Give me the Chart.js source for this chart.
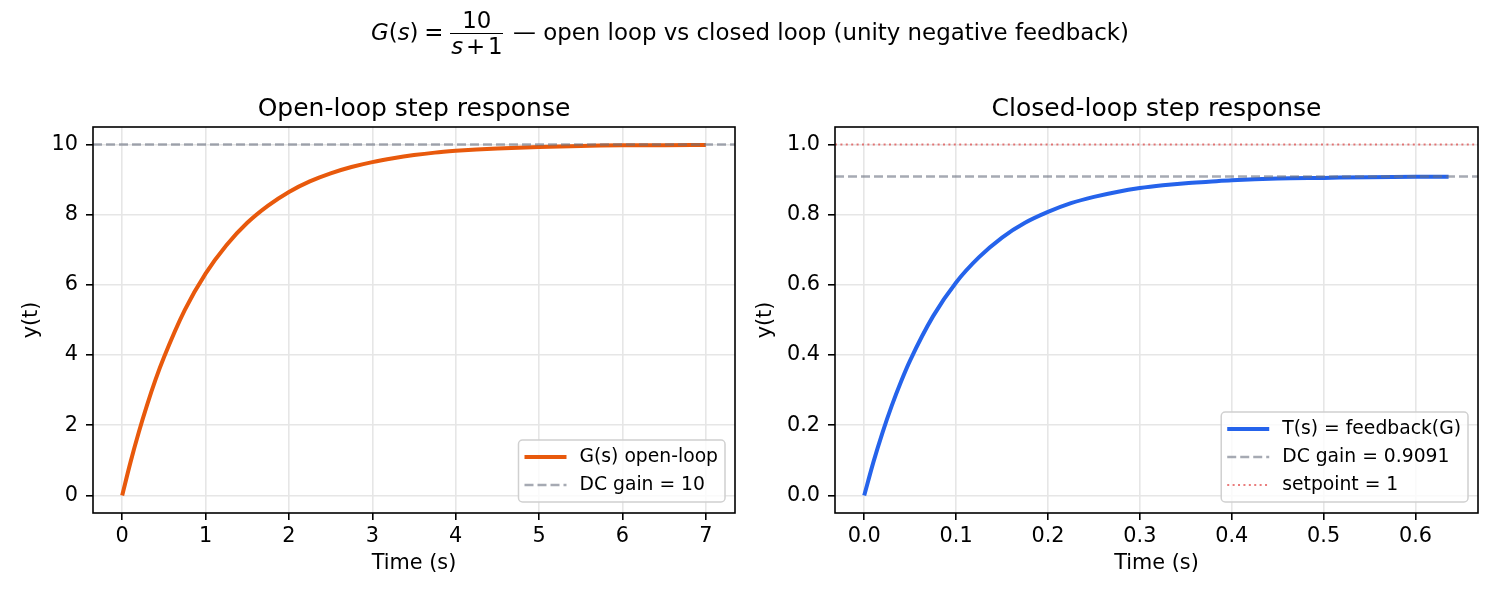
<!DOCTYPE html>
<html>
<head>
<meta charset="utf-8">
<script src="https://cdn.jsdelivr.net/npm/chart.js@4"></script>
<style>
  body { margin: 0; background: #fff; width: 1500px; height: 600px; position: relative; overflow: hidden; font-family: "DejaVu Sans", sans-serif; }
  canvas { position: absolute; top: 0; }
  #left { left: 0; }
  #right { left: 750px; }
  #sup { position: absolute; left: 0; top: 8px; width: 1500px; text-align: center; font-size: 22.9px; color: #000; white-space: nowrap; z-index: 2; }
  .m { font-style: italic; }
  .eq { margin: 0 0.2em 0 0.25em; }
  .op { margin: 0 0.12em; }
  .frac { display: inline-block; vertical-align: middle; text-align: center; margin: 0 0.1em; }
  .num { display: block; line-height: 1.1; border-bottom: 1.4px solid #000; padding: 0 1px; }
  .den { display: block; line-height: 1.1; padding: 0 1px; }
</style>
</head>
<body>
<div id="sup"><span class="m">G</span>(<span class="m">s</span>)<span class="eq">=</span><span class="frac"><span class="num">10</span><span class="den"><span class="m">s</span><span class="op">+</span>1</span></span> — open loop vs closed loop (unity negative feedback)</div>
<canvas id="left" width="750" height="600"></canvas>
<canvas id="right" width="750" height="600"></canvas>
<script>
// open loop step response
const tOpen = [0, 0.1, 0.2, 0.3, 0.4, 0.5, 0.75, 1, 1.25, 1.5, 1.75, 2, 2.25, 2.5, 2.75, 3, 3.25, 3.5, 3.75, 4, 4.25, 4.5, 4.75, 5, 5.5, 6, 6.5, 7];
const yOpen = [0, 0.95, 1.81, 2.59, 3.30, 3.93, 5.28, 6.32, 7.13, 7.77, 8.26, 8.65, 8.95, 9.18, 9.36, 9.50, 9.61, 9.70, 9.77, 9.82, 9.86, 9.89, 9.91, 9.93, 9.96, 9.98, 9.98, 9.99];

// closed loop step response
const tClosed = [0, 0.01, 0.02, 0.03, 0.04, 0.05, 0.075, 0.1, 0.125, 0.15, 0.175, 0.2, 0.225, 0.25, 0.275, 0.3, 0.325, 0.35, 0.375, 0.4, 0.45, 0.5, 0.55, 0.6, 0.636];
const yClosed = [0, 0.095, 0.180, 0.256, 0.324, 0.385, 0.511, 0.607, 0.679, 0.735, 0.777, 0.808, 0.833, 0.851, 0.865, 0.876, 0.884, 0.890, 0.894, 0.898, 0.903, 0.905, 0.907, 0.908, 0.908];

const dcOpen = 10;
const dcClosed = 0.9091;
const setpoint = 1;

const xTicksOpen = [0, 1, 2, 3, 4, 5, 6, 7];
const yTicksOpen = [0, 2, 4, 6, 8, 10];
const xTicksClosed = [0, 0.1, 0.2, 0.3, 0.4, 0.5, 0.6];
const yTicksClosed = [0, 0.2, 0.4, 0.6, 0.8, 1.0];

const xLimOpen = [-0.35, 7.35];
const yLimOpen = [-0.5, 10.5];
const xLimClosed = [-0.0318, 0.668];
const yLimClosed = [-0.05, 1.05];

Chart.defaults.font.family = '"DejaVu Sans", sans-serif';
Chart.defaults.font.size = 20.8;
Chart.defaults.color = '#000';
Chart.defaults.animation = false;

function pts(xs, ys) {
    return xs.map((x, i) => ({x: x, y: ys[i]}));
}

// full box around the plot area
const framePlugin = {
    id: 'frame',
    afterDatasetsDraw(chart) {
        const a = chart.chartArea, ctx = chart.ctx;
        ctx.save();
        ctx.strokeStyle = '#000';
        ctx.lineWidth = 1.6;
        ctx.strokeRect(a.left, a.top, a.right - a.left, a.bottom - a.top);
        ctx.restore();
    }
};

// subplot title centred over the plot area
const subTitlePlugin = {
    id: 'subTitle',
    afterDraw(chart, args, opts) {
        const a = chart.chartArea, ctx = chart.ctx;
        ctx.save();
        ctx.font = '25px "DejaVu Sans"';
        ctx.fillStyle = '#000';
        ctx.textAlign = 'center';
        ctx.textBaseline = 'alphabetic';
        ctx.fillText(opts.text, (a.left + a.right) / 2, a.top - 11);
        ctx.restore();
    }
};

// legend box in the lower right corner
const boxLegendPlugin = {
    id: 'boxLegend',
    afterDraw(chart) {
        const a = chart.chartArea, ctx = chart.ctx;
        const ds = chart.data.datasets;
        ctx.save();
        ctx.font = '18.75px "DejaVu Sans"';
        let tw = 0;
        ds.forEach(d => { tw = Math.max(tw, ctx.measureText(d.label).width); });
        const w = 6 + 42 + 13 + tw + 7;
        const h = (ds.length - 1) * 28 + 34;
        const x0 = a.right - 10 - w;
        const y0 = a.bottom - 11 - h;
        ctx.beginPath();
        ctx.roundRect(x0, y0, w, h, 4);
        ctx.fillStyle = 'rgba(255,255,255,0.8)';
        ctx.fill();
        ctx.strokeStyle = '#d0d0d0';
        ctx.lineWidth = 1.5;
        ctx.stroke();
        ds.forEach((d, i) => {
            const yc = y0 + 17 + i * 28;
            ctx.beginPath();
            ctx.setLineDash(d.borderDash || []);
            ctx.strokeStyle = d.borderColor;
            ctx.lineWidth = d.borderWidth;
            ctx.moveTo(x0 + 6, yc);
            ctx.lineTo(x0 + 48, yc);
            ctx.stroke();
            ctx.setLineDash([]);
            ctx.fillStyle = '#000';
            ctx.textAlign = 'left';
            ctx.textBaseline = 'middle';
            ctx.fillText(d.label, x0 + 61, yc);
        });
        ctx.restore();
    }
};

function axes(xLim, yLim, xTicks, yTicks, fmt, yWidth, yTitlePad) {
    const grid = { color: '#e6e6e6', lineWidth: 1.6, tickColor: '#000', tickWidth: 1.6, tickLength: 7 };
    return {
        x: {
            type: 'linear', min: xLim[0], max: xLim[1],
            afterBuildTicks: s => { s.ticks = xTicks.map(v => ({value: v})); },
            afterFit: s => { s.height = 87; },
            ticks: { padding: 4, autoSkip: false, maxRotation: 0, callback: v => fmt(v) },
            grid: grid,
            border: { display: false },
            title: { display: true, text: 'Time (s)', padding: {top: 0, bottom: 23.5} }
        },
        y: {
            type: 'linear', min: yLim[0], max: yLim[1],
            afterBuildTicks: s => { s.ticks = yTicks.map(v => ({value: v})); },
            afterFit: s => { s.width = yWidth; },
            ticks: { padding: 8, autoSkip: false, callback: v => fmt === String ? String(v) : v.toFixed(1) },
            grid: grid,
            border: { display: false },
            title: { display: true, text: 'y(t)', padding: {top: yTitlePad, bottom: 0} }
        }
    };
}

new Chart(document.getElementById('left'), {
    type: 'line',
    data: {
        datasets: [{
            label: 'G(s) open-loop',
            data: pts(tOpen, yOpen),
            borderColor: '#e8590c',
            borderWidth: 4,
            pointRadius: 0,
            cubicInterpolationMode: 'monotone',
            order: 2
        }, {
            label: 'DC gain = ' + dcOpen,
            data: pts(xLimOpen, [dcOpen, dcOpen]),
            borderColor: 'rgba(107,114,128,0.6)',
            borderWidth: 2.5,
            borderDash: [9, 4],
            pointRadius: 0,
            order: 1
        }]
    },
    options: {
        responsive: false,
        layout: { padding: {left: 0, right: 15, top: 127, bottom: 0} },
        scales: axes(xLimOpen, yLimOpen, xTicksOpen, yTicksOpen, String, 93, 19.5),
        plugins: {
            legend: { display: false },
            tooltip: { enabled: false },
            subTitle: { text: 'Open-loop step response' }
        }
    },
    plugins: [framePlugin, subTitlePlugin, boxLegendPlugin]
});

new Chart(document.getElementById('right'), {
    type: 'line',
    data: {
        datasets: [{
            label: 'T(s) = feedback(G)',
            data: pts(tClosed, yClosed),
            borderColor: '#2563eb',
            borderWidth: 4,
            pointRadius: 0,
            cubicInterpolationMode: 'monotone',
            order: 3
        }, {
            label: 'DC gain = ' + dcClosed,
            data: pts(xLimClosed, [dcClosed, dcClosed]),
            borderColor: 'rgba(107,114,128,0.6)',
            borderWidth: 2.5,
            borderDash: [9, 4],
            pointRadius: 0,
            order: 2
        }, {
            label: 'setpoint = ' + setpoint,
            data: pts(xLimClosed, [setpoint, setpoint]),
            borderColor: 'rgba(220,38,38,0.6)',
            borderWidth: 2,
            borderDash: [2, 3.4],
            pointRadius: 0,
            order: 1
        }]
    },
    options: {
        responsive: false,
        layout: { padding: {left: 0, right: 22, top: 127, bottom: 0} },
        scales: axes(xLimClosed, yLimClosed, xTicksClosed, yTicksClosed, v => v.toFixed(1), 85, 3.5),
        plugins: {
            legend: { display: false },
            tooltip: { enabled: false },
            subTitle: { text: 'Closed-loop step response' }
        }
    },
    plugins: [framePlugin, subTitlePlugin, boxLegendPlugin]
});
</script>
</body>
</html>
